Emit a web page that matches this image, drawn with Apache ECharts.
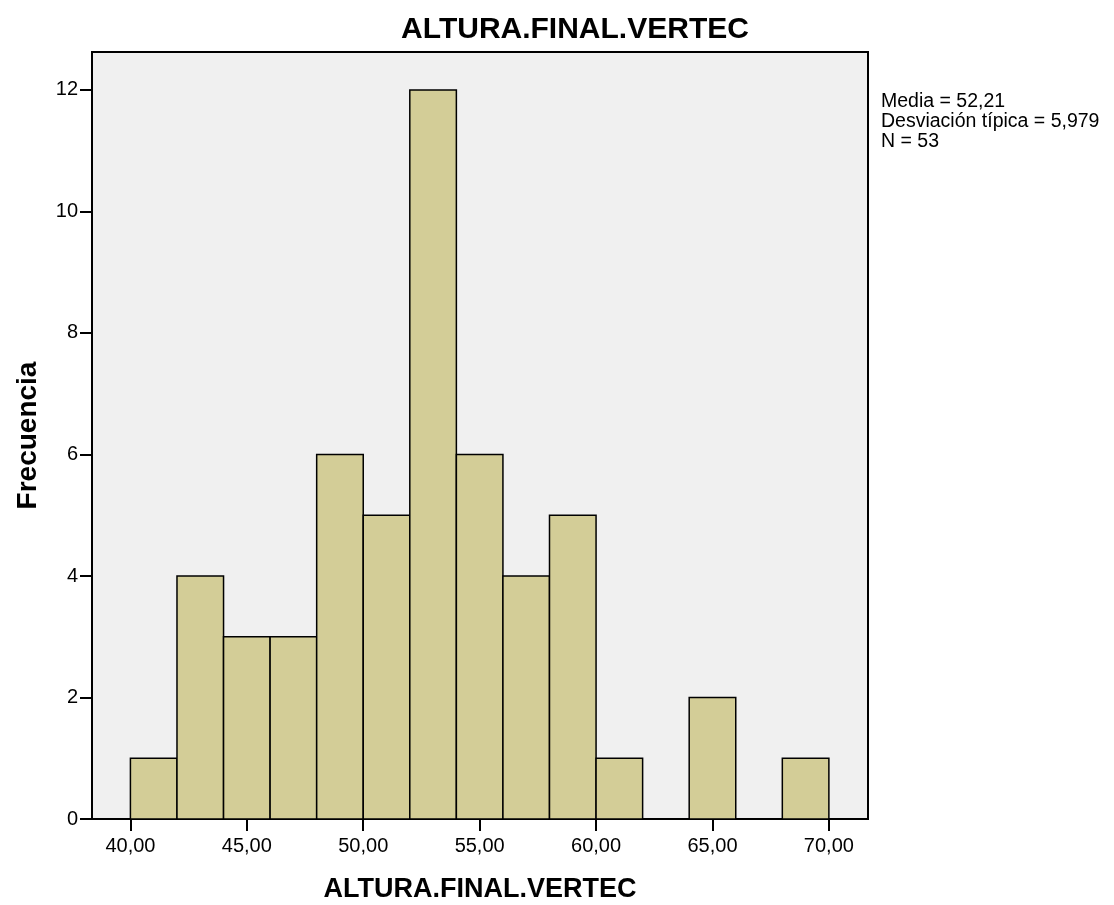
<!DOCTYPE html>
<html>
<head>
<meta charset="utf-8">
<script src="https://cdn.jsdelivr.net/npm/echarts@6/dist/echarts.min.js"></script>
<style>
  html, body { margin: 0; padding: 0; background: #fff; }
  #chart { width: 1114px; height: 905px; }
</style>
</head>
<body>
<div id="chart"></div>
<script>
  // histogram bins (width 2)
  var binStarts = [40, 42, 44, 46, 48, 50, 52, 54, 56, 58, 60, 62, 64, 66, 68];
  var counts = [1, 4, 3, 3, 6, 5, 12, 6, 4, 5, 1, 0, 2, 0, 1];
  var binWidth = 2;
  var xTicks = [40, 45, 50, 55, 60, 65, 70];
  var yTicks = [0, 2, 4, 6, 8, 10, 12];
  var statsLines = ['Media = 52,21', 'Desviación típica = 5,979', 'N = 53'];

  var chart = echarts.init(document.getElementById('chart'));
  var font = 'Liberation Sans, Arial, sans-serif';

  var data = binStarts.map(function (s, i) { return [s, counts[i]]; });

  chart.setOption({
    animation: false,
    backgroundColor: '#ffffff',
    title: {
      text: 'ALTURA.FINAL.VERTEC',
      left: 570,
      top: 10,
      textAlign: 'center',
      textStyle: { fontFamily: font, fontSize: 30, fontWeight: 'bold', color: '#000' }
    },
    graphic: [{
      type: 'text',
      left: 881,
      top: 92,
      style: {
        text: statsLines.join('\n'),
        fontFamily: font,
        fontSize: 19.5,
        lineHeight: 20,
        fill: '#000'
      }
    }],
    grid: {
      left: 92, right: 246, top: 52, bottom: 86,
      containLabel: false,
      outerBoundsMode: 'none',
      show: true,
      backgroundColor: '#f0f0f0',
      borderColor: '#000',
      borderWidth: 2
    },
    xAxis: {
      type: 'value',
      min: 38.35,
      max: 71.68,
      name: 'ALTURA.FINAL.VERTEC',
      nameLocation: 'middle',
      nameGap: 57,
      nameTextStyle: { fontFamily: font, fontSize: 27, fontWeight: 'bold', color: '#000' },
      axisLine: { show: true, lineStyle: { color: '#000', width: 2 } },
      axisTick: { show: true, inside: false, length: 12, customValues: xTicks, lineStyle: { color: '#000', width: 2 } },
      axisLabel: {
        customValues: xTicks,
        margin: 17,
        fontFamily: font, fontSize: 20, color: '#000',
        formatter: function (v) { return v.toFixed(2).replace('.', ','); }
      },
      splitLine: { show: false }
    },
    yAxis: {
      type: 'value',
      min: 0,
      max: 12.625,
      name: 'Frecuencia',
      nameLocation: 'middle',
      nameGap: 50,
      nameTextStyle: { fontFamily: font, fontSize: 28, fontWeight: 'bold', color: '#000' },
      axisLine: { show: true, lineStyle: { color: '#000', width: 2 } },
      axisTick: { show: true, inside: false, length: 12, customValues: yTicks, lineStyle: { color: '#000', width: 2 } },
      axisLabel: {
        customValues: yTicks,
        margin: 14,
        fontFamily: font, fontSize: 20, color: '#000'
      },
      splitLine: { show: false }
    },
    series: [{
      type: 'custom',
      data: data,
      renderItem: function (params, api) {
        var start = api.value(0);
        var count = api.value(1);
        if (!count) return null;
        var p0 = api.coord([start, count]);
        var p1 = api.coord([start + binWidth, 0]);
        return {
          type: 'rect',
          shape: { x: p0[0], y: p0[1], width: p1[0] - p0[0], height: p1[1] - p0[1] },
          style: { fill: '#d3cd97', stroke: '#000', lineWidth: 1.5 }
        };
      }
    }]
  });
</script>
</body>
</html>
